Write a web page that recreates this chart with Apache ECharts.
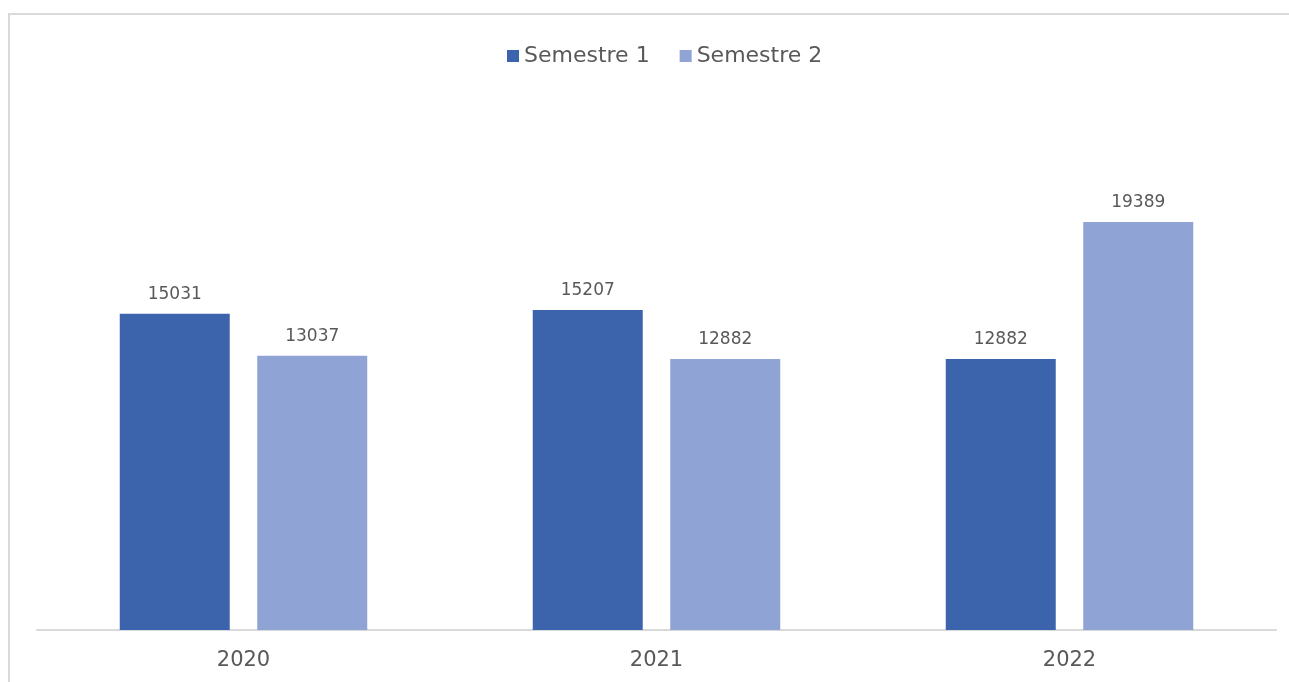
<!DOCTYPE html>
<html>
<head>
<meta charset="utf-8">
<script src="https://cdn.jsdelivr.net/npm/echarts@6/dist/echarts.min.js"></script>
<style>
  html, body { margin: 0; padding: 0; background: #fff; }
  #chart { width: 1289px; height: 682px; }
</style>
</head>
<body>
<div id="chart"></div>
<script>
// 数据
const years = ['2020', '2021', '2022']
const semestre1 = [15031, 15207, 12882]
const semestre2 = [13037, 12882, 19389]
const seriesNames = ['Semestre 1', 'Semestre 2']

const textColor = '#595959'
const fontFamily = '"DejaVu Sans", sans-serif'

let chart = echarts.init(document.getElementById('chart'))

const barLabel = {
  show: true,
  position: 'top',
  distance: 11,
  color: textColor,
  fontSize: 17,
  fontFamily: fontFamily
}

chart.setOption({
  animation: false,
  textStyle: { fontFamily: fontFamily },
  // 外框 (left + top border of the chart area)
  graphic: [{
    type: 'rect',
    shape: { x: 9, y: 14, width: 1300, height: 700 },
    style: { fill: 'none', stroke: '#d9d9d9', lineWidth: 2 },
    silent: true
  }],
  legend: {
    top: 40,
    left: 502,
    itemWidth: 12,
    itemHeight: 12,
    itemGap: 30,
    icon: 'rect',
    textStyle: { color: textColor, fontSize: 22, fontFamily: fontFamily },
    data: seriesNames
  },
  grid: {
    left: 37,
    right: 13,
    top: 104,
    bottom: 52
  },
  xAxis: {
    type: 'category',
    data: years,
    axisTick: { show: false },
    axisLine: { lineStyle: { color: '#d9d9d9', width: 2 } },
    axisLabel: { color: textColor, fontSize: 21, margin: 20, fontFamily: fontFamily }
  },
  yAxis: {
    type: 'value',
    min: 0,
    max: 25000,
    show: false,
    splitLine: { show: false }
  },
  series: [{
    name: seriesNames[0],
    type: 'bar',
    data: semestre1,
    barWidth: 110,
    barGap: '25%',
    itemStyle: { color: '#3c64ac' },
    label: barLabel
  }, {
    name: seriesNames[1],
    type: 'bar',
    data: semestre2,
    barWidth: 110,
    itemStyle: { color: '#8fa4d4' },
    label: barLabel
  }]
})
</script>
</body>
</html>
